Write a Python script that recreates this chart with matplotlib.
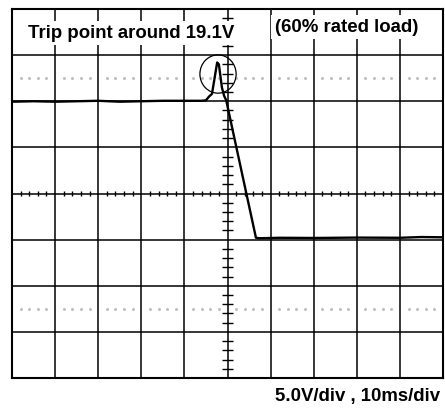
import numpy as np
import matplotlib
matplotlib.use("Agg")
import matplotlib.pyplot as plt
from matplotlib.patches import Ellipse

# scope settings
volts_per_div = 5.0
ms_per_div = 10.0
n_cols = 10
n_rows = 8

# trace (ms from centre, volts from centre line)
trace_t = [-50, -45, -40, -35, -30, -25, -20, -15, -10, -6.0, -5.0, -4.3,
           -3.6, -2.4, -2.0, -1.3, -0.8, -0.3, 6.6, 7.5, 12, 20, 30, 40, 45, 50]
trace_v = [9.95, 10.0, 9.95, 10.0, 10.05, 9.95, 10.0, 10.05, 10.05, 10.05,
           10.1, 10.5, 10.8, 14.2, 14.0, 11.5, 10.6, 10.1, -4.8, -4.85, -4.8,
           -4.82, -4.78, -4.8, -4.72, -4.75]

title_left = "Trip point around 19.1V"
title_right = "(60% rated load)"
scale_label = "5.0V/div , 10ms/div"

plt.rcParams["font.family"] = ["Liberation Sans", "DejaVu Sans"]

fig = plt.figure(figsize=(4.45, 4.08), dpi=100)
ax = fig.add_axes([12 / 445, 30 / 408, 431 / 445, 369 / 408])

xmax = n_cols / 2 * ms_per_div
ymax = n_rows / 2 * volts_per_div
ax.set_xlim(-xmax, xmax)
ax.set_ylim(-ymax, ymax)

# graticule
for gx in np.arange(-xmax, xmax + 1, ms_per_div):
    ax.axvline(gx, color="black", lw=1.1, zorder=1)
for gy in np.arange(-ymax, ymax + 1, volts_per_div):
    ax.axhline(gy, color="black", lw=1.1, zorder=1)

# minor ticks on the centre lines
minor_x = [x for x in np.arange(-xmax, xmax + 0.01, ms_per_div / 5)
           if abs(x % ms_per_div) > 0.01 and abs(x % ms_per_div - ms_per_div) > 0.01]
minor_y = [y for y in np.arange(-ymax, ymax + 0.01, volts_per_div / 5)
           if abs(y % volts_per_div) > 0.01 and abs(y % volts_per_div - volts_per_div) > 0.01]
ax.vlines(minor_x, -0.3, 0.3, color="black", lw=1.0, zorder=2)
ax.hlines(minor_y, -1.2, 1.2, color="black", lw=1.0, zorder=2)

# dotted reference lines at +/- 2.5 div
for dy in (2.5 * volts_per_div, -2.5 * volts_per_div):
    ax.plot(minor_x, [dy] * len(minor_x), ls="none", marker="o", ms=1.2,
            color="#c0c0c0", zorder=1)

for s in ax.spines.values():
    s.set_linewidth(1.5)
ax.set_xticks([])
ax.set_yticks([])

# trace
ax.plot(trace_t, trace_v, color="black", lw=1.7, zorder=4)

# circle marking the trip point
ax.add_patch(Ellipse((-2.2, 12.95), 8.4, 4.15, fill=False, ec="black",
                     lw=0.9, zorder=4))

box = dict(facecolor="white", edgecolor="none", pad=2.5)
ax.text(16 / 431, 1 - 24 / 369, title_left, transform=ax.transAxes,
        fontsize=13.4, fontweight="bold", va="center", ha="left", bbox=box,
        zorder=5)
ax.text(263 / 431, 1 - 18 / 369, title_right, transform=ax.transAxes,
        fontsize=13.4, fontweight="bold", va="center", ha="left", bbox=box,
        zorder=5)
fig.text(440 / 445, 1 - 397 / 408, scale_label, fontsize=13.4,
         fontweight="bold", ha="right", va="center")

fig.savefig("out.png", dpi=100)
